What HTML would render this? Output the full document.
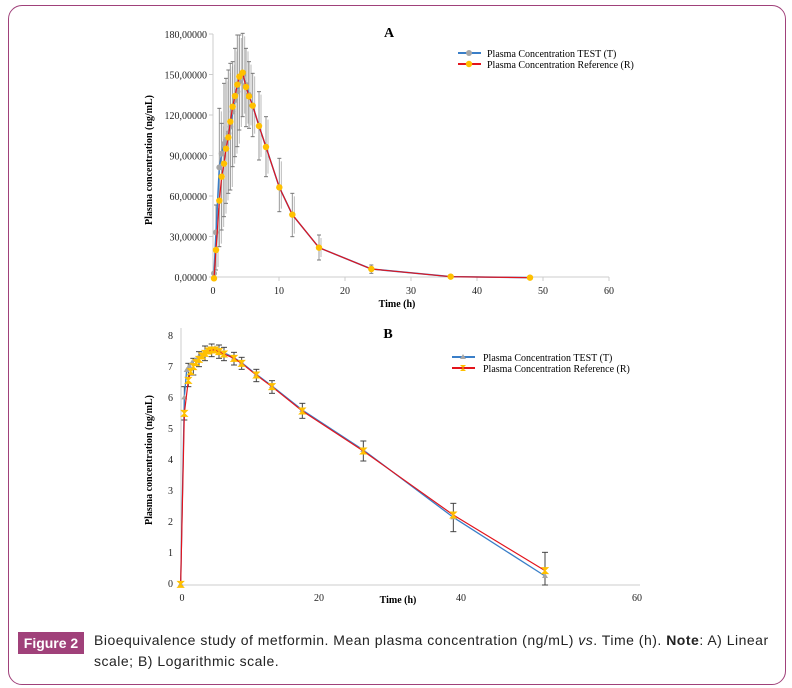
<!DOCTYPE html><html><head><style>
body{margin:0;background:#fff;width:792px;height:688px;overflow:hidden;font-family:"Liberation Serif",serif}
.frame{position:absolute;left:8px;top:5px;width:776px;height:678px;border:1px solid #a0417a;border-radius:14px}
.cap{position:absolute;left:22px;top:630px;font:14px "Liberation Sans",sans-serif;color:#222;line-height:21px;letter-spacing:0.5px}
.fig{position:absolute;left:18px;top:632px;width:66px;height:22px;background:#a0417a;color:#fff;font:bold 14px "Liberation Sans",sans-serif;text-align:center;line-height:22px}
</style></head><body>
<div class="frame"></div>
<svg id="s" width="792" height="688" style="position:absolute;left:0;top:0" font-family="Liberation Serif, serif"></svg>
<div class="fig">Figure 2</div>
<div class="cap" style="left:94px;width:685px">Bioequivalence study of metformin. Mean plasma concentration (ng/mL) <i>vs</i>. Time (h). <b>Note</b>: A) Linear scale; B) Logarithmic scale.</div>
<script>
let h='';
function T(x,y,t,o){h+=`<text x="${x}" y="${y}" ${o||''}>${t}</text>`}
function L(x1,y1,x2,y2,c,w){h+=`<line x1="${x1}" y1="${y1}" x2="${x2}" y2="${y2}" stroke="${c}" stroke-width="${w||1}"/>`}
// Chart A
const ax=213,ay=277;
L(ax,34,ax,ay,'#ccc');L(ax,ay,609,ay,'#ccc');
const yl=['0,00000','30,00000','60,00000','90,00000','120,00000','150,00000','180,00000'];
yl.forEach((t,i)=>{let y=ay-i*40.5;T(207,y+4,t,'font-size="10" text-anchor="end" fill="#222"');L(209,y,ax,y,'#ccc')});
for(let i=0;i<=6;i++){let x=ax+i*66;T(x,294,i*10,'font-size="10" text-anchor="middle" fill="#222"');L(x,ay,x,ay+4,'#ccc')}
T(389,37,'A','font-size="14" font-weight="bold" text-anchor="middle"');
T(397,307,'Time (h)','font-size="10" font-weight="bold" text-anchor="middle"');
T(0,0,'Plasma concentration (ng/mL)','font-size="10" font-weight="bold" text-anchor="middle" transform="translate(152,160) rotate(-90)"');
const A=(a)=>a.map(p=>[140+p[0]/3,20+p[1]/3]);
const eb=[[228,555,750],[238,265,680],[245,310,630],[252,190,590],[258,175,550],[265,150,520],[271,130,510],[278,125,440],[285,85,410],[292,45,380],[298,45,330],[308,40,290],[318,85,320],[327,125,325],[338,160,350],[357,215,420],[378,290,470],[418,415,575],[457,520,650],[537,645,720],[694,735,760]];
eb.forEach(e=>{let x=140+e[0]/3,y1=20+e[1]/3,y2=20+e[2]/3;L(x,y1,x,y2,'#999');L(x-2,y1,x+2,y1,'#777');L(x-2,y2,x+2,y2,'#777');L(x+2,y1+3,x+2,y2-3,'#bbb')});
const rA=A([[222,775],[228,690],[238,542],[245,470],[252,431],[258,386],[265,352],[271,305],[278,260],[285,228],[292,194],[298,170],[308,158],[318,201],[327,229],[338,257],[357,318],[378,381],[418,502],[457,584],[537,683],[694,747],[932,770],[1170,773]]);
const tA=A([[222,760],[228,637],[238,442],[245,401],[252,372],[258,360],[265,340],[271,320],[278,275],[285,240],[292,215],[298,185],[308,165],[318,195],[327,225],[338,257],[357,318],[378,381],[418,502],[457,584],[537,683],[694,747],[932,770],[1170,773]]);
const pl=(a,c,w)=>h+=`<polyline fill="none" stroke="${c}" stroke-width="${w}" points="${a.map(p=>p.join(',')).join(' ')}"/>`;
pl(tA,'#3a7fc8',1.5);tA.forEach(p=>h+=`<circle cx="${p[0]}" cy="${p[1]}" r="3" fill="#a6a6a6"/>`);
pl(rA,'#e3141c',1.2);rA.forEach(p=>h+=`<circle cx="${p[0]}" cy="${p[1]}" r="3.2" fill="#ffc000"/>`);
L(458,53,481,53,'#3a7fc8',2);h+=`<circle cx="469" cy="53" r="3" fill="#a6a6a6"/>`;
L(458,64,481,64,'#e3141c',2);h+=`<circle cx="469" cy="64" r="3.2" fill="#ffc000"/>`;
T(487,57,'Plasma Concentration TEST (T)','font-size="10"');T(487,68,'Plasma Concentration Reference (R)','font-size="10"');
// Chart B
const by=585,bx=181;
L(bx,328,bx,by,'#ccc');L(bx,by,640,by,'#ccc');
for(let i=0;i<=8;i++){let y=583-i*31;T(173,y+4,i,'font-size="10" text-anchor="end" fill="#222"')}
[[182,0],[319,20],[461,40],[637,60]].forEach(v=>T(v[0],601,v[1],'font-size="10" text-anchor="middle" fill="#222"'));
T(388,338,'B','font-size="14" font-weight="bold" text-anchor="middle"');
T(398,603,'Time (h)','font-size="10" font-weight="bold" text-anchor="middle"');
T(0,0,'Plasma concentration (ng/mL)','font-size="10" font-weight="bold" text-anchor="middle" transform="translate(152,460) rotate(-90)"');
const B=(a)=>a.map(p=>[140+p[0]/3,320+p[1]/3]);
const rB=B([[122,793],[133,280],[145,181],[152,155],[160,140],[168,128],[177,118],[186,108],[195,100],[205,93],[215,90],[225,90],[237,95],[252,102],[282,115],[305,130],[349,165],[396,200],[487,273],[670,393],[940,585],[1215,752]]);
const tB=B([[122,793],[133,232],[140,150],[148,138],[156,128],[165,120],[175,112],[186,103],[195,96],[205,88],[215,84],[225,84],[237,90],[252,98],[282,113],[305,128],[349,163],[396,198],[487,270],[670,390],[940,592],[1215,768]]);
const ebB=[[133,200,300],[145,130,200],[160,115,165],[177,95,140],[195,78,122],[215,72,110],[237,75,115],[252,82,122],[282,97,135],[305,112,148],[349,148,185],[396,182,220],[487,250,295],[670,363,423],[940,550,635],[1215,697,795]];
ebB.forEach(e=>{let x=140+e[0]/3,y1=320+e[1]/3,y2=320+e[2]/3;L(x,y1,x,y2,'#444');L(x-3,y1,x+3,y1,'#444');L(x-3,y2,x+3,y2,'#444')});
pl(tB,'#3a7fc8',1.3);tB.forEach(p=>h+=`<polygon points="${p[0]},${p[1]-3} ${p[0]-3},${p[1]+2} ${p[0]+3},${p[1]+2}" fill="#a6a6a6"/>`);
pl(rB,'#e3141c',1.2);rB.forEach(p=>h+=`<path d="M${p[0]-3},${p[1]-3}h6l-6,6h6z" fill="#ffc000" stroke="#ffc000" stroke-width="1"/>`);
L(452,357,475,357,'#3a7fc8',2);h+=`<polygon points="463,354 460,359 466,359" fill="#a6a6a6"/>`;
L(452,368,475,368,'#e3141c',2);h+=`<path d="M460,365h6l-6,6h6z" fill="#ffc000"/>`;
T(483,361,'Plasma Concentration TEST (T)','font-size="10"');T(483,372,'Plasma Concentration Reference (R)','font-size="10"');
document.getElementById('s').innerHTML=h;
</script>
</body></html>
